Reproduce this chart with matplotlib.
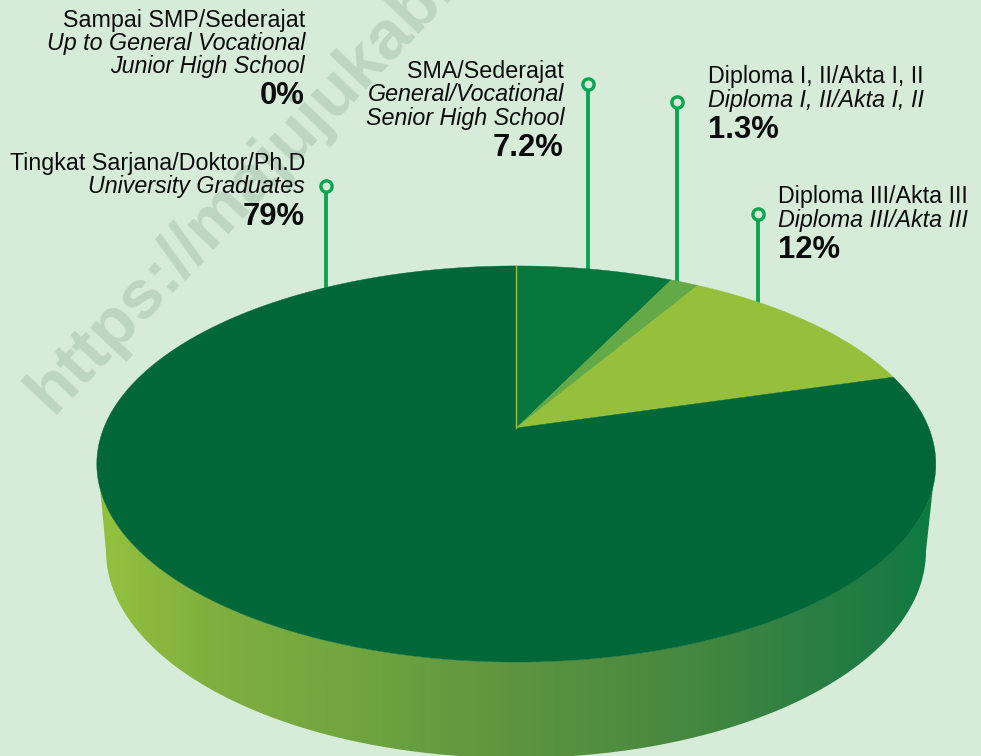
import numpy as np
import matplotlib
matplotlib.use('Agg')
import matplotlib.pyplot as plt
from matplotlib.colors import LinearSegmentedColormap
from matplotlib.patches import PathPatch
from matplotlib.path import Path

plt.rcParams['font.family'] = ['Liberation Sans', 'DejaVu Sans']

# shares in percent, clockwise from the top of the pie
shares = [0, 7.2, 1.3, 12, 79]
slice_colors = ['#9cc23c', '#05773d', '#64a947', '#96c03c', '#006838']

bg = '#d6ebd8'
stem_color = '#0ba552'
text_color = '#0c0c0c'

# apex of the slices and the perspective of the disc, in pixels
apex_x, apex_y = 516.3, 428
a, b, k = 412.5, 191.5, 0.1818


# project an angle on the circle (radians, from top, clockwise) to the tilted disc
def disc_xy(theta):
    u = np.sin(theta)
    v = np.cos(theta)
    d = 1 + k * v
    return apex_x + a * u / d, apex_y - b * v / d


fig = plt.figure(figsize=(9.81, 7.56), dpi=100, facecolor=bg)
ax = fig.add_axes([0, 0, 1, 1])
ax.set_xlim(0, 981)
ax.set_ylim(756, 0)
ax.axis('off')

# watermark, runs off the top edge like in the original
ax.text(52, 415, 'https://majujukab..', fontsize=49.5, fontweight='bold', color='#bdd6c1',
        rotation=46.5, rotation_mode='anchor', ha='left', va='baseline', zorder=1, clip_on=True)

# side of the cylinder, gradient clipped to the outline
t = np.linspace(0, 2 * np.pi, 721)
top_x, top_y = disc_xy(t)
low_t = np.linspace(np.pi, 0, 361)
low_x = 516 + 410 * np.cos(low_t)
low_y = 551 + 207 * np.sin(low_t)

keep = top_y > 487
order = np.argsort(top_x[keep])
side_x = np.concatenate([top_x[keep][order], [926], low_x[::-1], [100]])
side_y = np.concatenate([top_y[keep][order], [551], low_y[::-1], [487]])
side_path = Path(np.column_stack([side_x, side_y]))

side_cmap = LinearSegmentedColormap.from_list('side', [
    (0.0, '#93c13e'), (0.12, '#82b03f'), (0.3, '#70a53f'), (0.5, '#5d9440'),
    (0.72, '#44873f'), (0.84, '#2e7f44'), (0.95, '#1a7a42'), (1.0, '#0b7a40')])
side_im = ax.imshow(np.linspace(0, 1, 400).reshape(1, -1), cmap=side_cmap, aspect='auto',
                    extent=(100, 936, 770, 470), zorder=2)
side_patch = PathPatch(side_path, transform=ax.transData, facecolor='none', edgecolor='none')
ax.add_patch(side_patch)
side_im.set_clip_path(side_patch)
ax.set_xlim(0, 981)
ax.set_ylim(756, 0)

# top of the pie
start = 0.0
for i, share in enumerate(shares):
    stop = start + share
    if i == len(shares) - 1:
        stop = 100.0
    if share == 0:
        x0, y0 = disc_xy(np.radians(start * 3.6))
        ax.plot([apex_x, x0], [apex_y, y0], color=slice_colors[i], lw=1, zorder=4)
    else:
        th = np.radians(np.linspace(start, stop, 400) * 3.6)
        xs, ys = disc_xy(th)
        ax.fill(np.r_[apex_x, xs], np.r_[apex_y, ys], color=slice_colors[i], lw=0.3, zorder=3)
    start = stop

# leader stems
stem_x = [326, 588, 677, 758]
stem_top = [186, 84, 102, 214]
stem_bottom = [289, 271, 285, 304]
for sx, st, sb in zip(stem_x, stem_top, stem_bottom):
    ax.plot([sx, sx], [st, sb], color=stem_color, lw=2.8, zorder=2.5, solid_capstyle='butt')
    ax.plot([sx], [st], 'o', ms=8.1, mfc=bg, mec=stem_color, mew=2.4, zorder=5)

# labels
size_txt = 16.75
size_pct = 22.3
labels = [
    (305, 'right', [('Sampai SMP/Sederajat', 27), ('Up to General Vocational', 50),
                    ('Junior High School', 73)], ('0%', 104)),
    (305, 'right', [('Tingkat Sarjana/Doktor/Ph.D', 170), ('University Graduates', 193)], ('79%', 225)),
    (564, 'right', [('SMA/Sederajat', 78), ('General/Vocational', 101),
                    ('Senior High School', 125)], ('7.2%', 156)),
    (708, 'left', [('Diploma I, II/Akta I, II', 83), ('Diploma I, II/Akta I, II', 107)], ('1.3%', 138)),
    (778, 'left', [('Diploma III/Akta III', 203), ('Diploma III/Akta III', 227)], ('12%', 258)),
]
for x, ha, lines, pct in labels:
    for j, (txt, y) in enumerate(lines):
        ax.text(x, y, txt, ha=ha, va='baseline', fontsize=size_txt, color=text_color,
                fontstyle='normal' if j == 0 else 'italic', zorder=6)
    ax.text(x, pct[1], pct[0], ha=ha, va='baseline', fontsize=size_pct, fontweight='bold',
            color=text_color, zorder=6)

fig.savefig('out.png', dpi=100, facecolor=bg)
